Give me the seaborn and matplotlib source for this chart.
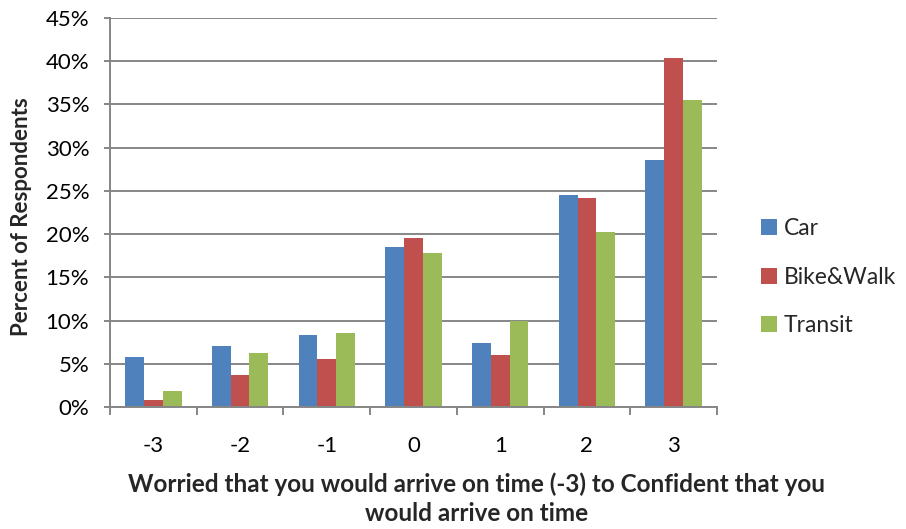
import matplotlib
matplotlib.use("Agg")
import matplotlib.pyplot as plt
from matplotlib.ticker import FixedLocator, PercentFormatter
import seaborn as sns
import pandas as pd

# Survey responses by travel mode
scores = ["-3", "-2", "-1", "0", "1", "2", "3"]
car = [5.8, 7.0, 8.3, 18.5, 7.4, 24.5, 28.6]
bike_walk = [0.8, 3.7, 5.6, 19.6, 6.0, 24.2, 40.4]
transit = [1.9, 6.3, 8.6, 17.8, 10.0, 20.3, 35.5]
modes = ["Car", "Bike&Walk", "Transit"]
colors = ["#4F81BD", "#C0504D", "#9BBB59"]

df = pd.DataFrame({
    "score": scores * 3,
    "pct": car + bike_walk + transit,
    "mode": [m for m in modes for _ in scores],
})

sns.set_style("white")
plt.rcParams["font.family"] = ["Lato", "DejaVu Sans"]

fig = plt.figure(figsize=(9.06, 5.29), dpi=100)
ax = fig.add_axes([110 / 906, 1 - 407 / 529, 607 / 906, 389 / 529])

sns.barplot(data=df, x="score", y="pct", hue="mode", order=scores,
            hue_order=modes, palette=colors, width=0.65, saturation=1,
            edgecolor="none", ax=ax)

grid_c = "#868686"
ax.set_ylim(0, 45)
ax.set_xlim(-0.5, len(scores) - 0.5)
ax.set_yticks(range(0, 46, 5))
ax.yaxis.set_major_formatter(PercentFormatter(decimals=0))
ax.yaxis.grid(True, color=grid_c, linewidth=1.4)
ax.set_axisbelow(True)

for side in ["top", "right"]:
    ax.spines[side].set_visible(False)
for side in ["left", "bottom"]:
    ax.spines[side].set_color(grid_c)
    ax.spines[side].set_linewidth(1.4)

ax.tick_params(axis="y", which="major", left=True, length=4, width=1.4,
               color=grid_c, labelsize=16, pad=11, labelcolor="#000000")
ax.tick_params(axis="x", which="major", length=0, labelsize=16, pad=21,
               labelcolor="#000000")
ax.xaxis.set_minor_locator(FixedLocator([i - 0.5 for i in range(len(scores) + 1)]))
ax.tick_params(axis="x", which="minor", bottom=True, length=6, width=1.4,
               color=grid_c)

ax.set_ylabel("Percent of Respondents", fontsize=16, fontweight="bold")
ax.yaxis.set_label_coords((32 - 110) / 607, (407 - 217) / 389)
ax.set_xlabel("")
fig.text(477 / 906, 1 - 499 / 529,
         "Worried that you would arrive on time (-3) to Confident that you\n"
         "would arrive on time",
         ha="center", va="center", fontsize=17.5, fontweight="bold",
         linespacing=1.3)

leg = ax.legend(loc="center left", bbox_to_anchor=((761 - 110) / 607, 0.334),
                frameon=False, fontsize=16.5, handlelength=0.7,
                handleheight=0.7, labelspacing=1.2, handletextpad=0.3,
                borderaxespad=0, borderpad=0)

fig.savefig("out.png", dpi=100)
